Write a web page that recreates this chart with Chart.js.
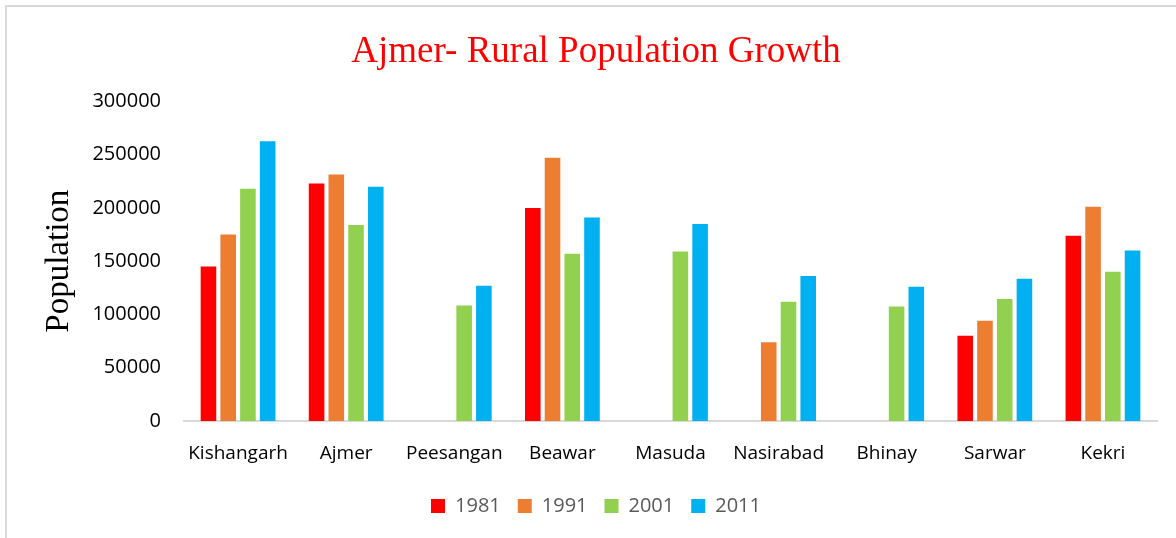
<!DOCTYPE html>
<html>
<head>
<meta charset="utf-8">
<title>Ajmer- Rural Population Growth</title>
<script src="https://cdn.jsdelivr.net/npm/chart.js@4.4.1/dist/chart.umd.min.js"></script>
<style>
  html, body { margin: 0; padding: 0; background: #ffffff; overflow: hidden; }
  #wrap { position: relative; width: 1176px; height: 538px; }
  #frame {
    position: absolute; left: 5px; top: 5px; width: 1200px; height: 600px;
    border-top: 2px solid #d9d9d9; border-left: 2px solid #d9d9d9;
  }
  #chart { position: absolute; left: 0; top: 0; }
</style>
</head>
<body>
<div id="wrap">
  <div id="frame"></div>
  <canvas id="chart" width="1176" height="538"></canvas>
</div>
<script>
(function() {
  window.addEventListener("load", main);

  const TALUKS = ["Kishangarh", "Ajmer", "Peesangan", "Beawar", "Masuda",
    "Nasirabad", "Bhinay", "Sarwar", "Kekri"];
  const YEARS = ["1981", "1991", "2001", "2011"];
  const POP_1981 = [145000, 223000, null, 200000, null, null, null, 80000, 174000];
  const POP_1991 = [175000, 231500, null, 247000, null, 74000, null, 94000, 201000];
  const POP_2001 = [218000, 184000, 108500, 157000, 159000, 112000, 107500, 114500, 140000];
  const POP_2011 = [262500, 220000, 127000, 191000, 185000, 136000, 126000, 133500, 160000];
  const Y_TICKS = [0, 50000, 100000, 150000, 200000, 250000, 300000];

  const COLORS = ["#ff0000", "#ed7d31", "#92d050", "#00b0f0"];

  function main() {
    let series = [POP_1981, POP_1991, POP_2001, POP_2011];
    let datasets = [];
    for(let i = 0; i < YEARS.length; i++) {
      datasets.push({
        label: YEARS[i],
        data: series[i],
        backgroundColor: COLORS[i],
        borderWidth: 0,
        categoryPercentage: 0.73,
        barPercentage: 0.79
      });
    }

    let ctx = document.getElementById("chart").getContext("2d");
    let chart = new Chart(ctx, {
      type: "bar",
      data: {
        labels: TALUKS,
        datasets: datasets
      },
      options: {
        responsive: false,
        animation: false,
        layout: {
          padding: { left: 35, right: 19, top: 0, bottom: 12 }
        },
        plugins: {
          title: {
            display: true,
            text: "Ajmer- Rural Population Growth",
            color: "#ff0000",
            font: { family: "'Liberation Serif', 'Times New Roman', serif", size: 37, weight: "normal", lineHeight: 1.2 },
            padding: { top: 30, bottom: 27 }
          },
          legend: {
            position: "bottom",
            labels: {
              boxWidth: 14,
              boxHeight: 14,
              padding: 17,
              color: "#595959",
              font: { family: "'Open Sans', sans-serif", size: 20 }
            }
          },
          tooltip: { enabled: false }
        },
        scales: {
          x: {
            grid: { display: false },
            border: { display: true, color: "#d9d9d9", width: 2 },
            ticks: {
              color: "#000000",
              padding: 13,
              maxRotation: 0,
              font: { family: "'Open Sans', sans-serif", size: 19 }
            },
            afterFit: function(scale) {
              scale.height = 58;
            }
          },
          y: {
            min: 0,
            max: 300000,
            grid: { display: false, drawTicks: false },
            border: { display: false },
            afterBuildTicks: function(scale) {
              scale.ticks = Y_TICKS.map(function(v) { return { value: v }; });
            },
            ticks: {
              color: "#000000",
              padding: 23,
              font: { family: "'Open Sans', sans-serif", size: 20 },
              callback: function(value) {
                return String(value);
              }
            },
            title: {
              display: true,
              text: "Population",
              color: "#000000",
              font: { family: "'Liberation Serif', 'Times New Roman', serif", size: 33, weight: "normal", lineHeight: 1.2 },
              padding: { top: 5, bottom: 0 }
            },
            afterFit: function(scale) {
              scale.width = 149;
            }
          }
        }
      }
    });
  }
})();
</script>
</body>
</html>
